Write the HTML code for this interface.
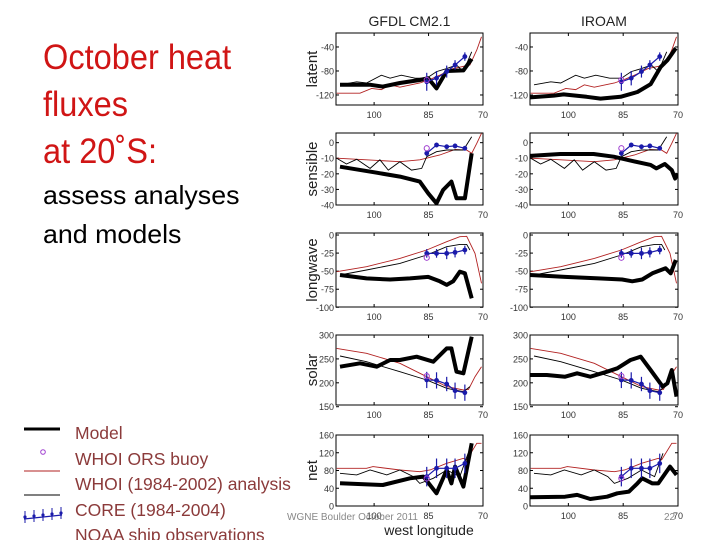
<!DOCTYPE html>
<html><head><meta charset="utf-8">
<style>
body{margin:0;background:#fff;}
#wrap{position:relative;width:720px;height:540px;overflow:hidden;font-family:"Liberation Sans",sans-serif;}
.t{position:absolute;white-space:nowrap;transform-origin:0 0;}
</style></head>
<body>
<div id="wrap">
<div class="t" style="left:43px;top:34px;font-size:35px;line-height:47px;color:#d01515;transform:scaleX(0.93);">October heat<br>fluxes<br>at 20˚S:</div>
<div class="t" style="left:43px;top:176px;font-size:26px;line-height:39px;color:#000;transform:scaleX(1.03);">assess analyses<br>and models</div>
<div class="t" style="left:75px;top:421px;font-size:17.5px;line-height:25.5px;color:#8b3a3a;">Model<br>WHOI ORS buoy<br>WHOI (1984-2002) analysis<br>CORE (1984-2004)<br>NOAA ship observations</div>
<svg id="chart" width="720" height="540" style="position:absolute;left:0;top:0;font-family:'Liberation Sans',sans-serif;"></svg>
</div>
<script>
// ---- data (longitude west, value W/m2) ----
const obsLon = [85.5, 82.8, 80.0, 77.7, 75.0];
const buoyLon = 85.5;
const panelNames = ["latent","sensible","longwave","solar","net"];
const yTicks = {latent:[-40,-80,-120], sensible:[0,-10,-20,-30,-40], longwave:[0,-25,-50,-75,-100], solar:[300,250,200,150], net:[160,120,80,40,0]};
const xTicks = [100, 85, 70];
const modelNames = ["GFDL CM2.1","IROAM"];

const latentGFDL = [[109.4,-103],[101,-103],[97.6,-106],[92.9,-100],[87.4,-95],[85.1,-92],[82.8,-109],[80,-80],[75.4,-79],[73.1,-60]];
const latentIROAM = [[110.5,-124],[104,-121],[101.3,-119],[95,-123],[91.2,-126],[85.7,-123],[81.1,-115],[77.5,-102],[74.7,-73],[72.9,-62],[70.6,-42]];
const latentWHOI = [[110.3,-117],[103.9,-117],[100.7,-109],[98,-111],[95.6,-103],[92.9,-107],[87.4,-100],[84.6,-94],[81.9,-87],[78.2,-76],[73.6,-70],[71.7,-45],[70.4,-23]];
const latentCORE = [[109.4,-103],[104.8,-98],[102.1,-100],[98,-87],[95.6,-92],[92.5,-87],[88.7,-92],[85.5,-92],[82.8,-81],[80,-76],[77.3,-70],[75.4,-81],[73.1,-48]];
const latentShip = [-98,-92,-81,-70,-56];
const latentErr = [15,12,10,8,7];
const latentBuoy = -95;

const sensGFDL = [[109.4,-15.4],[99.3,-19.3],[92.9,-21.8],[87.4,-25],[85.1,-32.5],[82.8,-38.9],[81,-30.4],[78.7,-25],[77.3,-35.7],[75,-35.7],[73.1,-6.8]];
const sensIROAM = [[110.5,-8.5],[102.2,-7.3],[93.1,-7.3],[87.6,-9],[83,-11.5],[77.5,-14.3],[75.9,-16.5],[73.6,-13.7],[71.7,-17.6],[70.8,-23],[70.1,-19.7]];
const sensWHOI = [[110.3,-10],[102.1,-11],[92.9,-12.2],[87.4,-11],[81.9,-7.9],[77.7,-4.3],[74.5,-4.8],[73.1,-6.8],[71.7,-0.4],[70.4,6]];
const sensCORE = [[110.3,-10],[107.6,-13.7],[104.8,-10.7],[101.1,-16.5],[98.4,-11],[96.1,-17.6],[92.9,-12.2],[89.7,-17.6],[86.9,-16.5],[85.5,-9],[82.8,-5.8],[80,-4.7],[77.3,-4.7],[75.4,-4.7],[73.1,3.8]];
const sensShip = [-6.8,-1.5,-2.6,-2.1,-3.6];
const sensErr = [1.8,1.5,1.5,1.5,1.5];
const sensBuoy = -3.6;

const lwGFDL = [[109.4,-55.3],[102.1,-60],[95.6,-61.6],[90.1,-60],[85.1,-58],[81.9,-64],[80,-69],[78.2,-64],[76.4,-50.7],[75,-53],[73.1,-87.6]];
const lwIROAM = [[110.5,-55.3],[100.9,-58],[91.7,-60],[85.3,-61.6],[82.5,-64],[79.8,-61.6],[77,-53],[73.4,-46],[72,-53],[70.6,-34.6]];
const lwWHOI = [[110.3,-50.7],[102.1,-43.8],[92.9,-32.3],[85.5,-20.7],[80,-9.2],[76.4,-2.3],[74.5,-1.8],[72.2,-25.4],[70.4,-66.8]];
const lwCORE = [[109.4,-55.3],[102.1,-48.4],[92.9,-39.2],[85.5,-27.7],[80,-16.1],[76.4,-13],[74.5,-13],[73.6,-20.7]];
const lwShip = [-25.4,-25.4,-25.4,-24,-20.7];
const lwErr = [6,6,8,7,6];
const lwBuoy = -31.4;

const solGFDL = [[109.4,233.7],[103.9,240.8],[99.3,233.7],[95.6,247.7],[92.9,247.7],[88.3,254.6],[83.7,244.2],[80,272],[78.7,272],[77.3,223.2],[75.4,220],[73.1,296.5]];
const solIROAM = [[110.5,216.3],[105.9,216.3],[100.9,212.8],[97.6,219.9],[94,212.8],[89.4,223.2],[86.6,230.3],[83,247.7],[80.2,254.6],[77.5,226.8],[74.2,192],[72.9,199],[71.7,226.8],[70.4,171]];
const solWHOI = [[110.3,272],[102.1,261.7],[92.9,240.8],[85.5,212.8],[80,192],[75.4,185],[74,186],[72.2,212.8],[70.4,233.7]];
const solCORE = [[109.4,256],[102.1,244.2],[92.9,223.2],[85.5,205.9],[80,188.5],[75.4,181.5],[73.6,192]];
const solShip = [206,205,197.5,183.5,179.4];
const solErr = [17,17,15,17,17];
const solBuoy = 214;

const netGFDL = [[109.4,51.1],[97.6,47.4],[90.1,62.4],[86.4,66.2],[82.8,28.7],[80,81.2],[78.7,51],[77.7,88.7],[75.4,43.7],[73.1,141.2]];
const netIROAM = [[110.5,19.6],[100.9,21],[97.6,25],[94,15.7],[89.4,21],[86.6,28.7],[83.4,32.5],[81.1,51],[79.8,62.4],[77,51],[75.4,51],[72.2,88.7],[70.4,70]];
const netWHOI = [[110.3,85],[102.1,85],[100.3,88.7],[92.9,81.2],[87.4,77.4],[84.6,81.2],[80,96.2],[75.4,107.5],[74.5,104],[71.7,141.2],[70.4,141.2]];
const netCORE = [[109.4,73.7],[104.8,70],[101.1,81.2],[96.5,70],[92.9,81.2],[89.2,66.2],[87.4,51],[83.7,62.4],[80,81.2],[76.4,66.2],[74.1,118.7]];
const netShip = [66.2,85,85,85,96];
const netErr = [22,22,22,22,22];
const netBuoy = 62;

// ---- layout ----
const colX = [[336,483],[530,678]];
const rowY = {latent:[33,105,-16.7,-136.7], sensible:[133,205,6.2,-40], longwave:[233,307,2.8,-99.6], solar:[335,405,300,153.6], net:[435,506,160,0]};
const rowData = {
  latent:[latentGFDL,latentIROAM,latentWHOI,latentCORE,latentShip,latentErr,latentBuoy],
  sensible:[sensGFDL,sensIROAM,sensWHOI,sensCORE,sensShip,sensErr,sensBuoy],
  longwave:[lwGFDL,lwIROAM,lwWHOI,lwCORE,lwShip,lwErr,lwBuoy],
  solar:[solGFDL,solIROAM,solWHOI,solCORE,solShip,solErr,solBuoy],
  net:[netGFDL,netIROAM,netWHOI,netCORE,netShip,netErr,netBuoy]
};
const svg = document.getElementById('chart');
const NS = 'http://www.w3.org/2000/svg';
function mk(tag, attrs, parent){const e=document.createElementNS(NS,tag);for(const k in attrs)e.setAttribute(k,attrs[k]);(parent||svg).appendChild(e);return e;}
function xScale(c){const [a,b]=colX[c];return lon=>a+(110.5-lon)*(b-a)/40.5;}
function yScale(r){const [t,bt,vt,vb]=rowY[r];return v=>t+(vt-v)*(bt-t)/(vt-vb);}

modelNames.forEach((m,c)=>{
  const t=mk('text',{x:(colX[c][0]+colX[c][1])/2,y:26,'text-anchor':'middle','font-size':14,fill:'#222'});
  
  
  t.textContent=m;
});

panelNames.forEach(r=>{
  const [t,bt]=rowY[r];
  const lab=mk('text',{x:0,y:0,'text-anchor':'middle','font-size':15,fill:'#222',transform:`translate(317,${(t+bt)/2}) rotate(-90)`});
  
  
  lab.textContent=r;
  const d=rowData[r];
  for(let c=0;c<2;c++){
    const xs=xScale(c), ys=yScale(r), [x0,x1]=colX[c];
    const g=mk('g',{});
    
    
    const clip='clip-'+r+c;
    const cp=mk('clipPath',{id:clip},g); mk('rect',{x:x0,y:t,width:x1-x0,height:bt-t},cp);
    const fr=mk('rect',{x:x0,y:t,width:x1-x0,height:bt-t,fill:'none',stroke:'#000','stroke-width':1},g);
    
    
    yTicks[r].forEach(v=>{
      const y=ys(v);
      mk('line',{x1:x0,x2:x0+3,y1:y,y2:y,stroke:'#000'},g);
      mk('line',{x1:x1,x2:x1-3,y1:y,y2:y,stroke:'#000'},g);
      const tl=mk('text',{x:x0-2,y:y+3.5,'text-anchor':'end','font-size':9,fill:'#333'},g);
      
      
      tl.textContent=v;
    });
    xTicks.forEach(v=>{
      const x=xs(v);
      mk('line',{x1:x,x2:x,y1:bt,y2:bt-3,stroke:'#000'},g);
      mk('line',{x1:x,x2:x,y1:t,y2:t+3,stroke:'#000'},g);
      const tl=mk('text',{x:x,y:bt+13,'text-anchor':'middle','font-size':9,fill:'#333'},g);
      
      
      tl.textContent=v;
    });
    const pg=mk('g',{'clip-path':`url(#${clip})`},g);
    const pts=a=>a.map(p=>xs(p[0]).toFixed(1)+','+ys(p[1]).toFixed(1)).join(' ');
    const red=mk('polyline',{points:pts(d[2]),fill:'none',stroke:'#b22222','stroke-width':0.9},pg);
    
    
    const core=mk('polyline',{points:pts(d[3]),fill:'none',stroke:'#000','stroke-width':0.9},pg);
    
    
    const model=mk('polyline',{points:pts(d[c]),fill:'none',stroke:'#000','stroke-width':4,'stroke-linejoin':'round'},pg);
    
    
    const ship=obsLon.map((l,i)=>[l,d[4][i]]);
    const sl=mk('polyline',{points:pts(ship),fill:'none',stroke:'#1a1aaa','stroke-width':1.2},pg);
    
    
    obsLon.forEach((l,i)=>{
      const x=xs(l),v=d[4][i],e=d[5][i];
      const eb=mk('line',{x1:x,x2:x,y1:ys(v-e),y2:ys(v+e),stroke:'#1a1aaa','stroke-width':1.2},pg);
      
      
      const dt=mk('circle',{cx:x,cy:ys(v),r:2.4,fill:'#1a1aaa'},pg);
      
      
    });
    const bu=mk('circle',{cx:xs(buoyLon),cy:ys(d[6]),r:2.6,fill:'none',stroke:'#a040d0','stroke-width':1},pg);
    
    
  }
});

// legend glyphs
const lg=mk('g',{});


mk('line',{x1:24,x2:60,y1:429,y2:429,stroke:'#000','stroke-width':3},lg);
mk('circle',{cx:43,cy:452,r:2.3,fill:'none',stroke:'#a040d0'},lg);
mk('line',{x1:24,x2:60,y1:471,y2:471,stroke:'#b22222','stroke-width':1},lg);
mk('line',{x1:24,x2:60,y1:495,y2:495,stroke:'#000','stroke-width':1},lg);
mk('line',{x1:24,x2:62,y1:519,y2:515,stroke:'#1a1aaa','stroke-width':1.2},lg);
[25,34,43,52,61].forEach((x,i)=>{mk('line',{x1:x,x2:x,y1:511-i,y2:523-i,stroke:'#1a1aaa'},lg);mk('circle',{cx:x,cy:517-i,r:1.6,fill:'#1a1aaa'},lg);});

const f1=mk('text',{x:287,y:520,'font-size':10,fill:'#888'});


f1.textContent='WGNE  Boulder October 2011';
const f2=mk('text',{x:429,y:535,'text-anchor':'middle','font-size':14,fill:'#222'});


f2.textContent='west longitude';
const f3=mk('text',{x:664,y:520,'font-size':10,fill:'#888'});


f3.textContent='22';
</script>
</body></html>
